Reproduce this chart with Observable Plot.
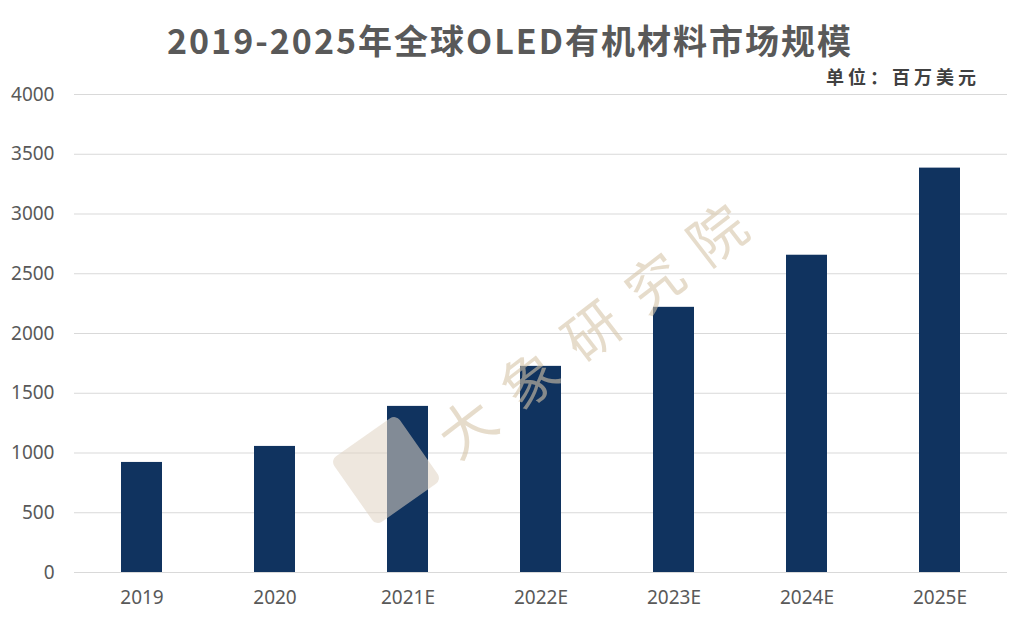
<!DOCTYPE html>
<html>
<head>
<meta charset="utf-8">
<script src="https://cdn.jsdelivr.net/npm/d3@7"></script>
<script src="https://cdn.jsdelivr.net/npm/@observablehq/plot@0.6"></script>
<style>
  html, body { margin: 0; padding: 0; background: #fff; }
  #wrap { position: relative; width: 1020px; height: 637px; overflow: hidden; background: #fff; }
  #title { position: absolute; left: 0; width: 1020px; top: 18px; text-align: center;
    font-family: "Noto Sans CJK SC", sans-serif; font-weight: 700; font-size: 34px; line-height: 44px;
    color: #595959; letter-spacing: 2px; }
  #subtitle { position: absolute; right: 40px; top: 64px; font-family: "Noto Sans CJK SC", sans-serif;
    font-weight: 700; font-size: 18px; line-height: 24px; color: #404040; letter-spacing: 4px; z-index: 2; }
  #chart { position: absolute; left: 0; top: 70px; }
  #chart svg { overflow: visible; }
  #wm { position: absolute; left: 0; top: 0; width: 1020px; height: 637px; pointer-events: none; }
  #wmtext { position: absolute; left: 383px; top: 299px; width: 400px; text-align: center; white-space: nowrap;
    transform: rotate(-37.6deg); transform-origin: 50% 50%;
    font-family: "Noto Sans CJK SC", serif; font-size: 56px; line-height: 70px; letter-spacing: 23px;
    text-indent: 23px; color: rgba(214, 196, 168, 0.6); }
  #wmlogo { position: absolute; left: 346px; top: 430px; width: 80px; height: 80px;
    transform: rotate(55deg); background: rgba(224, 212, 195, 0.55); border-radius: 7px; }
</style>
</head>
<body>
<div id="wrap">
  <div id="title">2019-2025年全球OLED有机材料市场规模</div>
  <div id="chart"></div>
  <div id="subtitle">单位：百万美元</div>
  <div id="wm"><div id="wmlogo"></div><div id="wmtext">大象研究院</div></div>
</div>
<script>
const categories = ["2019", "2020", "2021E", "2022E", "2023E", "2024E", "2025E"];
const values = [921, 1055, 1390, 1725, 2219, 2655, 3384];
const yTicks = [0, 500, 1000, 1500, 2000, 2500, 3000, 3500, 4000];

const data = categories.map((c, i) => ({category: c, value: values[i]}));

const chart = Plot.plot({
  width: 1020,
  height: 567,
  marginTop: 24,
  marginBottom: 65,
  marginLeft: 74,
  marginRight: 13,
  style: {fontFamily: "'Noto Sans', sans-serif", fontSize: "19px", color: "#595959", background: "transparent"},
  x: {domain: categories, paddingInner: 0.69, paddingOuter: 0.345, label: null},
  y: {domain: [0, 4000], label: null},
  marks: [
    Plot.gridY(yTicks, {stroke: "#d9d9d9", strokeOpacity: 1, strokeWidth: 1}),
    Plot.barY(data, {x: "category", y: "value", fill: "#10335f"}),
    Plot.axisY(yTicks, {tickSize: 0, tickPadding: 20, label: null, fill: "#595959", fontSize: 19, tickFormat: d => String(d)}),
    Plot.axisX({tickSize: 0, tickPadding: 18, label: null, fill: "#595959", fontSize: 19})
  ]
});
document.getElementById("chart").appendChild(chart);
</script>
</body>
</html>
